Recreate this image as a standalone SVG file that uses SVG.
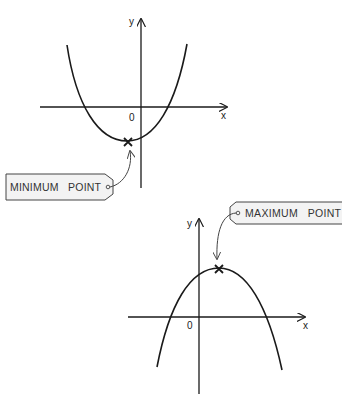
<svg xmlns="http://www.w3.org/2000/svg" width="342" height="395" viewBox="0 0 342 395">
<defs>
<style>
.ax{stroke:#1a1a1a;stroke-width:1.3;fill:none}
.cv{stroke:#1a1a1a;stroke-width:1.6;fill:none}
.lbl{font-family:"Liberation Sans",Arial,sans-serif;font-size:10px;fill:#222}
.tag{fill:#f3f3f3;stroke:#444;stroke-width:1}
.tagt{font-family:"Liberation Sans",Arial,sans-serif;font-size:10.5px;fill:#333;white-space:pre}
.con{stroke:#444;stroke-width:1;fill:none}
</style>
<marker id="ah" viewBox="0 0 10 10" refX="9" refY="5" markerWidth="9" markerHeight="9" orient="auto" markerUnits="userSpaceOnUse">
<path d="M0,0 L10,5 L0,10" fill="none" stroke="#1a1a1a" stroke-width="1.3"/>
</marker>
<marker id="ah2" viewBox="0 0 10 10" refX="9" refY="5" markerWidth="8" markerHeight="8" orient="auto" markerUnits="userSpaceOnUse">
<path d="M0,0 L10,5 L0,10" fill="none" stroke="#444" stroke-width="1.2"/>
</marker>
</defs>
<rect width="342" height="395" fill="#ffffff"/>
<g id="graph1">
<line class="ax" x1="141" y1="188" x2="141" y2="19" marker-end="url(#ah)"/>
<line class="ax" x1="40" y1="107" x2="227" y2="107" marker-end="url(#ah)"/>
<text class="lbl" x="129" y="25">y</text>
<text class="lbl" x="221" y="119">x</text>
<text class="lbl" x="129" y="121">0</text>
<path class="cv" d="M67,45 C76,105 98,141 127,141 C155,141 176,105 187,44"/>
<path d="M124,138 L132,146 M132,138 L124,146" stroke="#1a1a1a" stroke-width="1.8"/>
</g>
<g id="minimum-label">
<path class="tag" d="M6,174 L105,174 L113,180 L113,194 L105,200 L6,200 Z"/>
<circle cx="108" cy="187" r="1.8" fill="none" stroke="#444" stroke-width="0.9"/>
<text class="tagt" x="10" y="191" xml:space="preserve" textLength="91" lengthAdjust="spacing">MINIMUM   POINT</text>
</g>
<g id="graph2">
<line class="ax" x1="199" y1="394" x2="199" y2="219" marker-end="url(#ah)"/>
<line class="ax" x1="128" y1="317" x2="305" y2="317" marker-end="url(#ah)"/>
<text class="lbl" x="187" y="227">y</text>
<text class="lbl" x="303" y="329">x</text>
<text class="lbl" x="187" y="329">0</text>
<path class="cv" d="M157,367 C169,305 190,268 219,268 C246,268 268,305 282,370"/>
<path d="M215,265 L223,273 M223,265 L215,273" stroke="#1a1a1a" stroke-width="1.8"/>
</g>
<g id="maximum-label">
<path class="tag" d="M236,202 L345,202 L345,224 L236,224 L230,219 L230,207 Z"/>
<circle cx="238" cy="213" r="1.8" fill="none" stroke="#444" stroke-width="0.9"/>
<text class="tagt" x="245" y="217" xml:space="preserve" textLength="96" lengthAdjust="spacing">MAXIMUM   POINT</text>
</g>
<g id="connectors">
<path class="con" d="M110,187 C124,184 133,168 130,151" marker-end="url(#ah2)"/>
<path class="con" d="M236,213 C222,214 216,232 217,259" marker-end="url(#ah2)"/>
</g>
</svg>
